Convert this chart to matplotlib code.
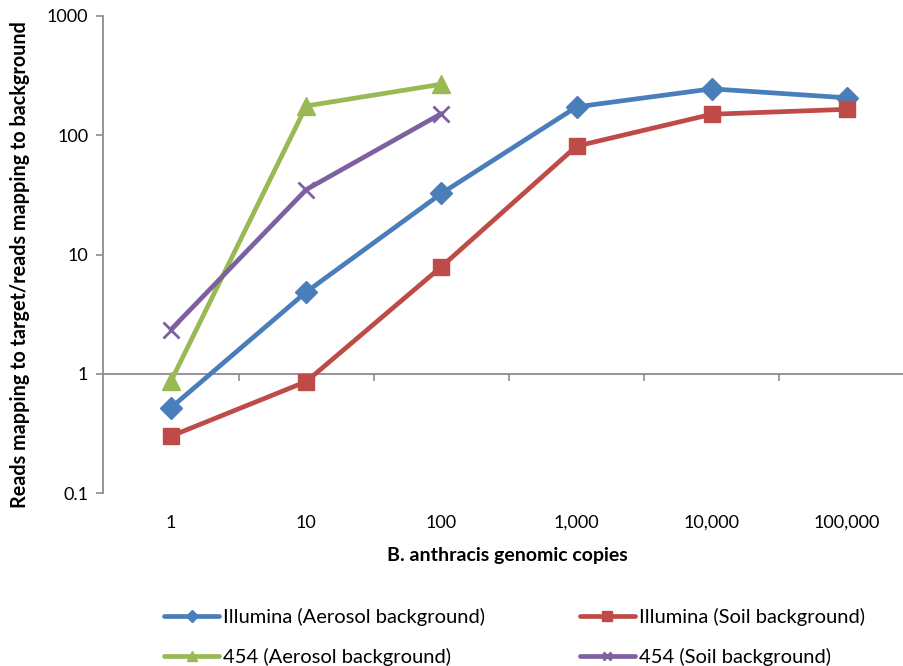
import numpy as np
import matplotlib.pyplot as plt
from matplotlib.ticker import FixedLocator, NullLocator

plt.rcParams['font.family'] = ['Lato', 'DejaVu Sans']

# Genomic copies (category axis) and ratio of target/background reads
copies = ['1', '10', '100', '1,000', '10,000', '100,000']
illumina_aerosol = [0.52, 4.85, 32.5, 173, 245, 206]
illumina_soil = [0.30, 0.86, 7.9, 81, 150, 165]
s454_aerosol = [0.87, 176, 268]
s454_soil = [2.35, 35, 152]

series = [
    ('Illumina (Aerosol background)', illumina_aerosol, '#4A7EBB', 'D', 11),
    ('Illumina (Soil background)', illumina_soil, '#BE4B48', 's', 12),
    ('454 (Aerosol background)', s454_aerosol, '#98B954', '^', 13),
    ('454 (Soil background)', s454_soil, '#7D60A0', 'x', 11),
]

fs = 13

fig = plt.figure(figsize=(9.04, 6.66), dpi=100)
ax = fig.add_axes([103.5 / 904, 173 / 666, 811 / 904, 477 / 666])

handles = {}
for name, vals, color, marker, ms in series:
    x = np.arange(len(vals))
    mew = 2.0 if marker == 'x' else 1
    line, = ax.plot(x, vals, color=color, lw=3.4, marker=marker, ms=ms,
                    mew=mew, mec=color, mfc=color, solid_capstyle='round', zorder=3)
    handles[name] = line

ax.set_yscale('log')
ax.set_ylim(0.1, 1000)
ax.set_xlim(-0.5, len(copies) - 0.5)

grey = '#8C8C8C'
for side in ['top', 'right']:
    ax.spines[side].set_visible(False)
ax.spines['left'].set_color(grey)
ax.spines['left'].set_linewidth(1.3)
ax.spines['bottom'].set_color(grey)
ax.spines['bottom'].set_linewidth(1.3)
ax.spines['bottom'].set_position(('data', 1))

# y axis: decades only
ax.yaxis.set_major_locator(FixedLocator([0.1, 1, 10, 100, 1000]))
ax.yaxis.set_minor_locator(NullLocator())
ax.set_yticklabels(['0.1', '1', '10', '100', '1000'])
ax.tick_params(axis='y', direction='out', length=5, width=1.2, color=grey,
               labelsize=fs, pad=6)

# x axis crosses at 1, ticks between categories
ax.xaxis.set_major_locator(FixedLocator(np.arange(0.5, len(copies), 1.0)))
ax.xaxis.set_minor_locator(NullLocator())
ax.tick_params(axis='x', direction='out', length=5, width=1.2, color=grey,
               labelbottom=False)
for i, lab in enumerate(copies):
    ax.text(i, -0.063, lab, transform=ax.get_xaxis_transform(), ha='center',
            va='center', fontsize=fs)

fig.text(507 / 904, 1 - 556 / 666, 'B. anthracis genomic copies',
         ha='center', va='center', fontsize=14, fontweight='bold')
fig.text(20 / 904, 1 - 265 / 666,
         'Reads mapping to target/reads mapping to background',
         ha='center', va='center', rotation=90, fontsize=14.2, fontweight='bold')

order = ['Illumina (Aerosol background)', '454 (Aerosol background)',
         'Illumina (Soil background)', '454 (Soil background)']
leg = fig.legend([handles[k] for k in order], order, ncol=2, frameon=False,
                 loc='center left', bbox_to_anchor=(146 / 904, 1 - 637 / 666),
                 fontsize=14.5, handlelength=2.73, handletextpad=0.2,
                 columnspacing=4.7, labelspacing=1.05, markerscale=0.55)

fig.savefig('out.png', dpi=100)
